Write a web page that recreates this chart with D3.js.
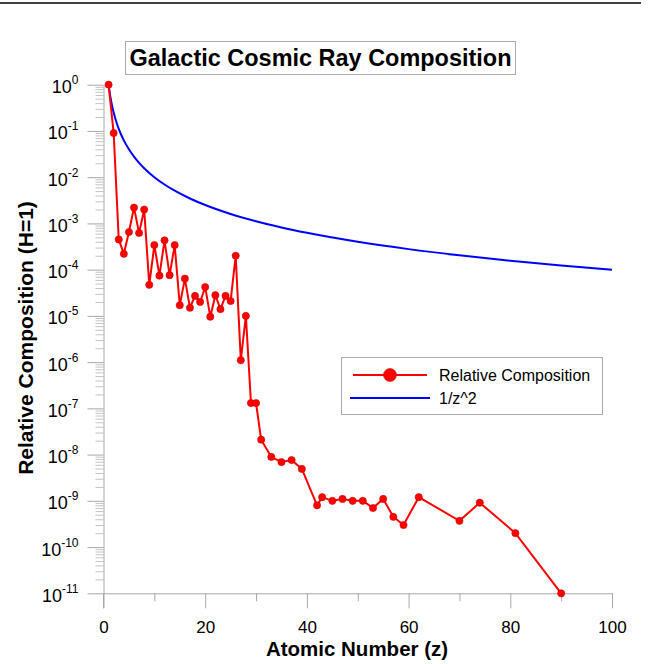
<!DOCTYPE html>
<html><head><meta charset="utf-8">
<script src="https://cdn.jsdelivr.net/npm/d3@7"></script>
<style>
html,body{margin:0;padding:0;background:#fff;}
svg{display:block;font-family:Arial,"Liberation Sans",sans-serif;}
</style></head>
<body>
<script>
// ---- data ----
const zValues = [1,2,3,4,5,6,7,8,9,10,11,12,13,14,15,16,17,18,19,20,21,22,23,24,25,26,27,28,29,30,31,33,35,37,39,42,43,45,47,49,51,53,55,57,59,62,70,74,81,90];
const composition = [1,0.09,4.5e-4,2.2e-4,6.5e-4,2.2e-3,6.2e-4,2.0e-3,4.7e-5,3.4e-4,7.4e-5,4.3e-4,7.6e-5,3.4e-4,1.7e-5,6.4e-5,1.5e-5,2.7e-5,2.0e-5,4.2e-5,9.6e-6,2.8e-5,1.4e-5,2.7e-5,2.1e-5,2.0e-4,1.1e-6,1.0e-5,1.3e-7,1.3e-7,2.1e-8,8.9e-9,6.9e-9,7.6e-9,4.9e-9,8.0e-10,1.2e-9,1.0e-9,1.1e-9,1.0e-9,1.0e-9,7.0e-10,1.1e-9,4.5e-10,3.0e-10,1.2e-9,3.7e-10,9.1e-10,2.0e-10,1e-11];
const curveZ = [1,1.25,1.5,1.75,2,2.5,3,3.5,4,5,6,7,8,10,12,14,17,20,25,30,35,40,50,60,70,80,90,100];
const curveValues = [1,0.64,0.4444,0.3265,0.25,0.16,0.1111,0.08163,0.0625,0.04,0.02778,0.02041,0.015625,0.01,0.006944,0.005102,0.00346,0.0025,0.0016,0.001111,0.000816,0.000625,0.0004,0.0002778,0.0002041,0.00015625,0.0001235,0.0001];
const xTicks = [0,20,40,60,80,100];
const xMinorTicks = [10,30,50,70,90];
const yExponents = [0,-1,-2,-3,-4,-5,-6,-7,-8,-9,-10,-11];
const titleText = "Galactic Cosmic Ray Composition";
const xLabel = "Atomic Number (z)";
const yLabel = "Relative Composition (H=1)";
const legendLabels = ["Relative Composition","1/z^2"];

const W = 652, H = 664;
const svg = d3.select("body").append("svg").attr("width", W).attr("height", H);

const x = d3.scaleLinear().domain([0,100]).range([103.5,612]);
const y = d3.scaleLog().domain([1e-11,1]).range([593.3,84.7]);

// top black rule
svg.append("line").attr("x1",0).attr("x2",641).attr("y1",3).attr("y2",3)
  .attr("stroke","#000").attr("stroke-width",1.5);

const axisColor = "#a8a8a8";
// minor y ticks
const minorY = [];
for (let e = -11; e < 0; e++) for (let m = 2; m <= 9; m++) minorY.push(m * Math.pow(10, e));
const gyMinor = svg.append("g").attr("transform", `translate(${x(0)},0)`)
  .call(d3.axisLeft(y).tickValues(minorY).tickSize(8).tickFormat(""));
gyMinor.select(".domain").remove();
gyMinor.selectAll(".tick line").attr("stroke","#c4c4c4");

// major y axis
const yMajor = yExponents.map(e => Math.pow(10, e));
const gy = svg.append("g").attr("transform", `translate(${x(0)},0)`)
  .call(d3.axisLeft(y).tickValues(yMajor).tickSize(16).tickSizeOuter(0).tickFormat(""));
gy.select(".domain").attr("stroke",axisColor);
gy.selectAll(".tick line").attr("stroke",axisColor);
gy.selectAll(".tick").each(function(d){
  const e = Math.round(Math.log10(d));
  const t = d3.select(this).append("text").attr("x",-25).attr("y",8)
    .attr("text-anchor","end").attr("fill","#000").attr("font-size",18)
    .style("font-family","Arial,'Liberation Sans',sans-serif");
  t.append("tspan").text("10");
  t.append("tspan").attr("dy",-9).attr("font-size",12).text(String(e));
});

// x axis
const gx = svg.append("g").attr("transform", `translate(0,${y(1e-11)})`)
  .call(d3.axisBottom(x).tickValues(xTicks).tickSize(15).tickSizeOuter(0).tickFormat(d3.format("d")));
gx.select(".domain").attr("stroke",axisColor);
gx.selectAll(".tick line").attr("stroke",axisColor);
gx.selectAll(".tick text").attr("y",28).attr("font-size",17).attr("fill","#000")
  .style("font-family","Arial,'Liberation Sans',sans-serif");
const gxMinor = svg.append("g").attr("transform", `translate(0,${y(1e-11)})`)
  .call(d3.axisBottom(x).tickValues(xMinorTicks).tickSize(8).tickFormat(""));
gxMinor.select(".domain").remove();
gxMinor.selectAll(".tick line").attr("stroke",axisColor);
svg.append("line").attr("x1",x(0)).attr("x2",x(0)).attr("y1",y(1e-11)).attr("y2",y(1e-11)+15).attr("stroke",axisColor);

// blue curve
const curveData = curveZ.map((z,i)=>({z, v:curveValues[i]}));
svg.append("path").datum(curveData)
  .attr("fill","none").attr("stroke","#0000ff").attr("stroke-width",2)
  .attr("d", d3.line().x(d=>x(d.z)).y(d=>y(d.v)).curve(d3.curveMonotoneX));

// red series
const data = zValues.map((z,i)=>({z, v:composition[i]}));
svg.append("path").datum(data)
  .attr("fill","none").attr("stroke","#ff0000").attr("stroke-width",2)
  .attr("d", d3.line().x(d=>x(d.z)).y(d=>y(d.v)));
svg.append("g").selectAll("circle").data(data).join("circle")
  .attr("cx",d=>x(d.z)).attr("cy",d=>y(d.v)).attr("r",3.6)
  .attr("fill","#ff0000").attr("stroke","#d00000").attr("stroke-width",0.6);

// title
svg.append("rect").attr("x",125.5).attr("y",41.5).attr("width",390).attr("height",33)
  .attr("fill","#fff").attr("stroke","#aaa").attr("stroke-width",1);
svg.append("text").attr("x",320.5).attr("y",65.5).attr("text-anchor","middle")
  .attr("font-size",23.5).attr("font-weight","bold").attr("textLength",382).attr("lengthAdjust","spacingAndGlyphs")
  .text(titleText);

// axis labels
svg.append("text").attr("x",357).attr("y",656).attr("text-anchor","middle")
  .attr("font-size",20.5).attr("font-weight","bold").text(xLabel);
svg.append("text").attr("transform","translate(33,338) rotate(-90)").attr("text-anchor","middle")
  .attr("font-size",21).attr("font-weight","bold").text(yLabel);

// legend
const lg = svg.append("g");
lg.append("rect").attr("x",341.5).attr("y",357.5).attr("width",261).attr("height",57)
  .attr("fill","#fff").attr("stroke","#aaa").attr("stroke-width",1);
lg.append("line").attr("x1",353).attr("x2",427).attr("y1",375).attr("y2",375).attr("stroke","#ff0000").attr("stroke-width",2);
lg.append("circle").attr("cx",390).attr("cy",375).attr("r",6.5).attr("fill","#ff0000").attr("stroke","#d00000").attr("stroke-width",0.6);
lg.append("line").attr("x1",350).attr("x2",430).attr("y1",398).attr("y2",398).attr("stroke","#0000ff").attr("stroke-width",2);
lg.append("text").attr("x",439).attr("y",381).attr("font-size",16).text(legendLabels[0]);
lg.append("text").attr("x",439).attr("y",404).attr("font-size",16).text(legendLabels[1]);
</script>
</body></html>
